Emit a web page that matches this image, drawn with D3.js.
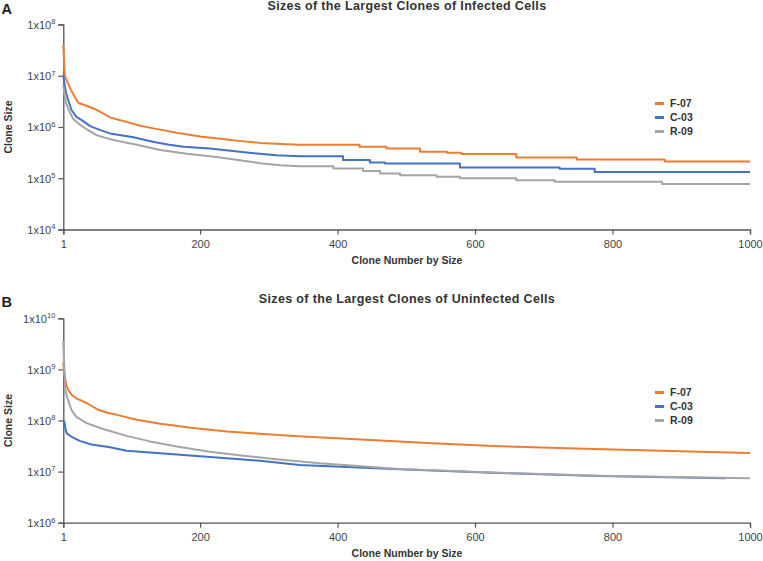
<!DOCTYPE html>
<html><head><meta charset="utf-8">
<script src="https://cdn.jsdelivr.net/npm/d3@7"></script>
<style>body{margin:0;background:#fff}svg{display:block;font-family:"Liberation Sans",Arial,sans-serif}</style>
</head><body><svg id="c" width="763" height="561"></svg>
<script>
const seriesNames = ["F-07", "C-03", "R-09"];
const seriesColors = ["#ED7D31", "#4472C4", "#A5A5A5"];
const xTicks = [1, 200, 400, 600, 800, 1000];
const titles = ["Sizes of the Largest Clones of Infected Cells", "Sizes of the Largest Clones of Uninfected Cells"];
const panelLetters = ["A", "B"];
const yDomainA = [1e4, 1e8];
const yDomainB = [1e6, 1e10];

const infectedF07 = [[1,4.0e7],[2,2.0e7],[3,1.1e7],[5,8.5e6],[8,7.0e6],[12,5.3e6],[15,4.5e6],[20,3.4e6],[24,2.9e6],[35,2.6e6],[45,2.3e6],[57,1.9e6],[69,1.54e6],[80,1.4e6],[93,1.26e6],[110,1.08e6],[132,9.4e5],[150,8.5e5],[166,7.7e5],[200,6.5e5],[239,5.7e5],[260,5.3e5],[287,4.9e5],[326,4.6e5],[345,4.5e5],[432,4.5e5],[432,4.1e5],[471,4.1e5],[471,3.82e5],[520,3.82e5],[520,3.28e5],[559,3.28e5],[559,3.13e5],[580,3.13e5],[580,2.96e5],[660,2.96e5],[660,2.55e5],[748,2.55e5],[748,2.33e5],[876,2.33e5],[876,2.13e5],[1000,2.13e5]];
const infectedC03 = [[1,1.0e7],[2,8e6],[3,6.6e6],[5,4.6e6],[8,3.4e6],[13,2.15e6],[20,1.58e6],[30,1.3e6],[40,1.04e6],[55,8.7e5],[69,7.5e5],[85,6.9e5],[103,6.3e5],[120,5.6e5],[137,5.0e5],[155,4.5e5],[176,4.1e5],[214,3.8e5],[248,3.4e5],[287,3.0e5],[311,2.8e5],[345,2.7e5],[408,2.7e5],[408,2.26e5],[447,2.26e5],[447,2.04e5],[469,2.04e5],[469,1.95e5],[578,1.95e5],[578,1.62e5],[723,1.62e5],[723,1.53e5],[774,1.53e5],[774,1.33e5],[1000,1.33e5]];
const infectedR09 = [[1,6.6e6],[3,3.9e6],[5,3.0e6],[8,2.3e6],[15,1.47e6],[22,1.2e6],[30,1.0e6],[40,8.2e5],[50,6.9e5],[65,6.0e5],[79,5.4e5],[108,4.5e5],[142,3.56e5],[181,3.0e5],[224,2.6e5],[263,2.2e5],[290,1.95e5],[317,1.8e5],[345,1.72e5],[394,1.72e5],[394,1.55e5],[437,1.55e5],[437,1.38e5],[462,1.38e5],[462,1.24e5],[491,1.24e5],[491,1.15e5],[544,1.15e5],[544,1.07e5],[578,1.07e5],[578,1.0e5],[660,1.0e5],[660,9.1e4],[716,9.1e4],[716,8.5e4],[872,8.5e4],[872,7.7e4],[1000,7.7e4]];

const uninfectedF07 = [[1,1.4e9],[2,1.0e9],[3,7.3e8],[5,5.2e8],[8,4.0e8],[13,3.2e8],[20,2.7e8],[35,2.2e8],[52,1.62e8],[65,1.42e8],[79,1.29e8],[108,1.03e8],[142,8.6e7],[190,7.1e7],[239,6.1e7],[287,5.5e7],[336,5.0e7],[441,4.2e7],[538,3.6e7],[635,3.15e7],[733,2.87e7],[830,2.64e7],[927,2.45e7],[1000,2.3e7]];
const uninfectedC03 = [[1,1.02e8],[3,8.9e7],[4,7.0e7],[6,5.6e7],[13,4.8e7],[25,4.0e7],[42,3.4e7],[69,3.0e7],[93,2.57e7],[142,2.28e7],[190,2.05e7],[239,1.82e7],[287,1.63e7],[345,1.35e7],[490,1.11e7],[635,9.4e6],[780,8.2e6],[965,7.4e6]];
const uninfectedR09 = [[1,3.5e9],[2,1.5e9],[4,4.0e8],[6,3.0e8],[8,2.5e8],[13,1.6e8],[20,1.18e8],[35,8.9e7],[59,6.8e7],[93,5.0e7],[127,3.9e7],[166,3.1e7],[214,2.45e7],[263,2.05e7],[311,1.74e7],[374,1.45e7],[490,1.13e7],[635,9.5e6],[780,8.3e6],[1000,7.4e6]];

const panels = [
  {title: titles[0], letter: panelLetters[0], domain: yDomainA, top: 24.5, bottom: 229.5, series: [infectedF07, infectedC03, infectedR09], legendY: 103.5},
  {title: titles[1], letter: panelLetters[1], domain: yDomainB, top: 318.3, bottom: 522.7, series: [uninfectedF07, uninfectedC03, uninfectedR09], legendY: 392.5}
];

const svg = d3.select("#c");
const x = d3.scaleLinear().domain([1, 1000]).range([63.3, 750]);
const axisColor = "#555";
const textColor = "#333";

panels.forEach(p => {
  const y = d3.scaleLog().domain(p.domain).range([p.bottom, p.top]);
  const g = svg.append("g");
  const yTicks = d3.range(Math.log10(p.domain[0]), Math.log10(p.domain[1]) + 1).map(e => Math.pow(10, e));

  // Y axis
  const ya = g.append("g").attr("transform", `translate(${x(1)},0)`)
    .call(d3.axisLeft(y).tickValues(yTicks).tickSize(5).tickPadding(3).tickFormat(() => ""));
  ya.selectAll("text").each(function(d) {
    const t = d3.select(this);
    t.text(null).attr("fill", "#444").attr("font-size", 11).attr("dy", "0.35em");
    t.append("tspan").text("1x10");
    t.append("tspan").text(Math.round(Math.log10(d))).attr("font-size", 7.5).attr("dy", "-0.6em");
  });
  // X axis
  const xa = g.append("g").attr("transform", `translate(0,${p.bottom})`)
    .call(d3.axisBottom(x).tickValues(xTicks).tickSize(5).tickPadding(6).tickFormat(d3.format("d")));
  xa.selectAll("text").attr("fill", "#444").attr("font-size", 11);
  [ya, xa].forEach(a => {
    a.select(".domain").attr("stroke", axisColor).attr("stroke-width", 1.3);
    a.selectAll(".tick line").attr("stroke", axisColor).attr("stroke-width", 1.2);
  });

  // Lines
  const line = d3.line().x(d => x(d[0])).y(d => y(d[1]));
  p.series.forEach((s, i) => {
    g.append("path").datum(s).attr("d", line).attr("fill", "none")
      .attr("stroke", seriesColors[i]).attr("stroke-width", 2).attr("stroke-linejoin", "round");
  });
  // Title
  g.append("text").attr("x", 407).attr("y", p.top - 15).attr("text-anchor", "middle")
    .attr("font-size", 12.5).attr("letter-spacing", 0.35).attr("font-weight", "bold").attr("fill", textColor).text(p.title);
  g.append("text").attr("x", 1.5).attr("y", p.top - 11).attr("font-size", 14.5).attr("font-weight", "bold")
    .attr("fill", "#222").text(p.letter);
  // Axis titles
  g.append("text").attr("transform", `translate(11.5,${(p.top + p.bottom) / 2}) rotate(-90)`)
    .attr("text-anchor", "middle").attr("font-size", 10.5).attr("font-weight", "bold").attr("fill", textColor).text("Clone Size");
  g.append("text").attr("x", 407).attr("y", p.bottom + 34.5).attr("text-anchor", "middle")
    .attr("font-size", 10.5).attr("font-weight", "bold").attr("fill", textColor).text("Clone Number by Size");
  // Legend
  seriesNames.forEach((n, i) => {
    const ly = p.legendY + i * 14;
    g.append("line").attr("x1", 655).attr("x2", 664).attr("y1", ly).attr("y2", ly)
      .attr("stroke", seriesColors[i]).attr("stroke-width", 3);
    g.append("text").attr("x", 670).attr("y", ly).attr("dy", "0.36em").attr("font-size", 10.5)
      .attr("font-weight", "bold").attr("fill", textColor).text(n);
  });
});
</script></body></html>
